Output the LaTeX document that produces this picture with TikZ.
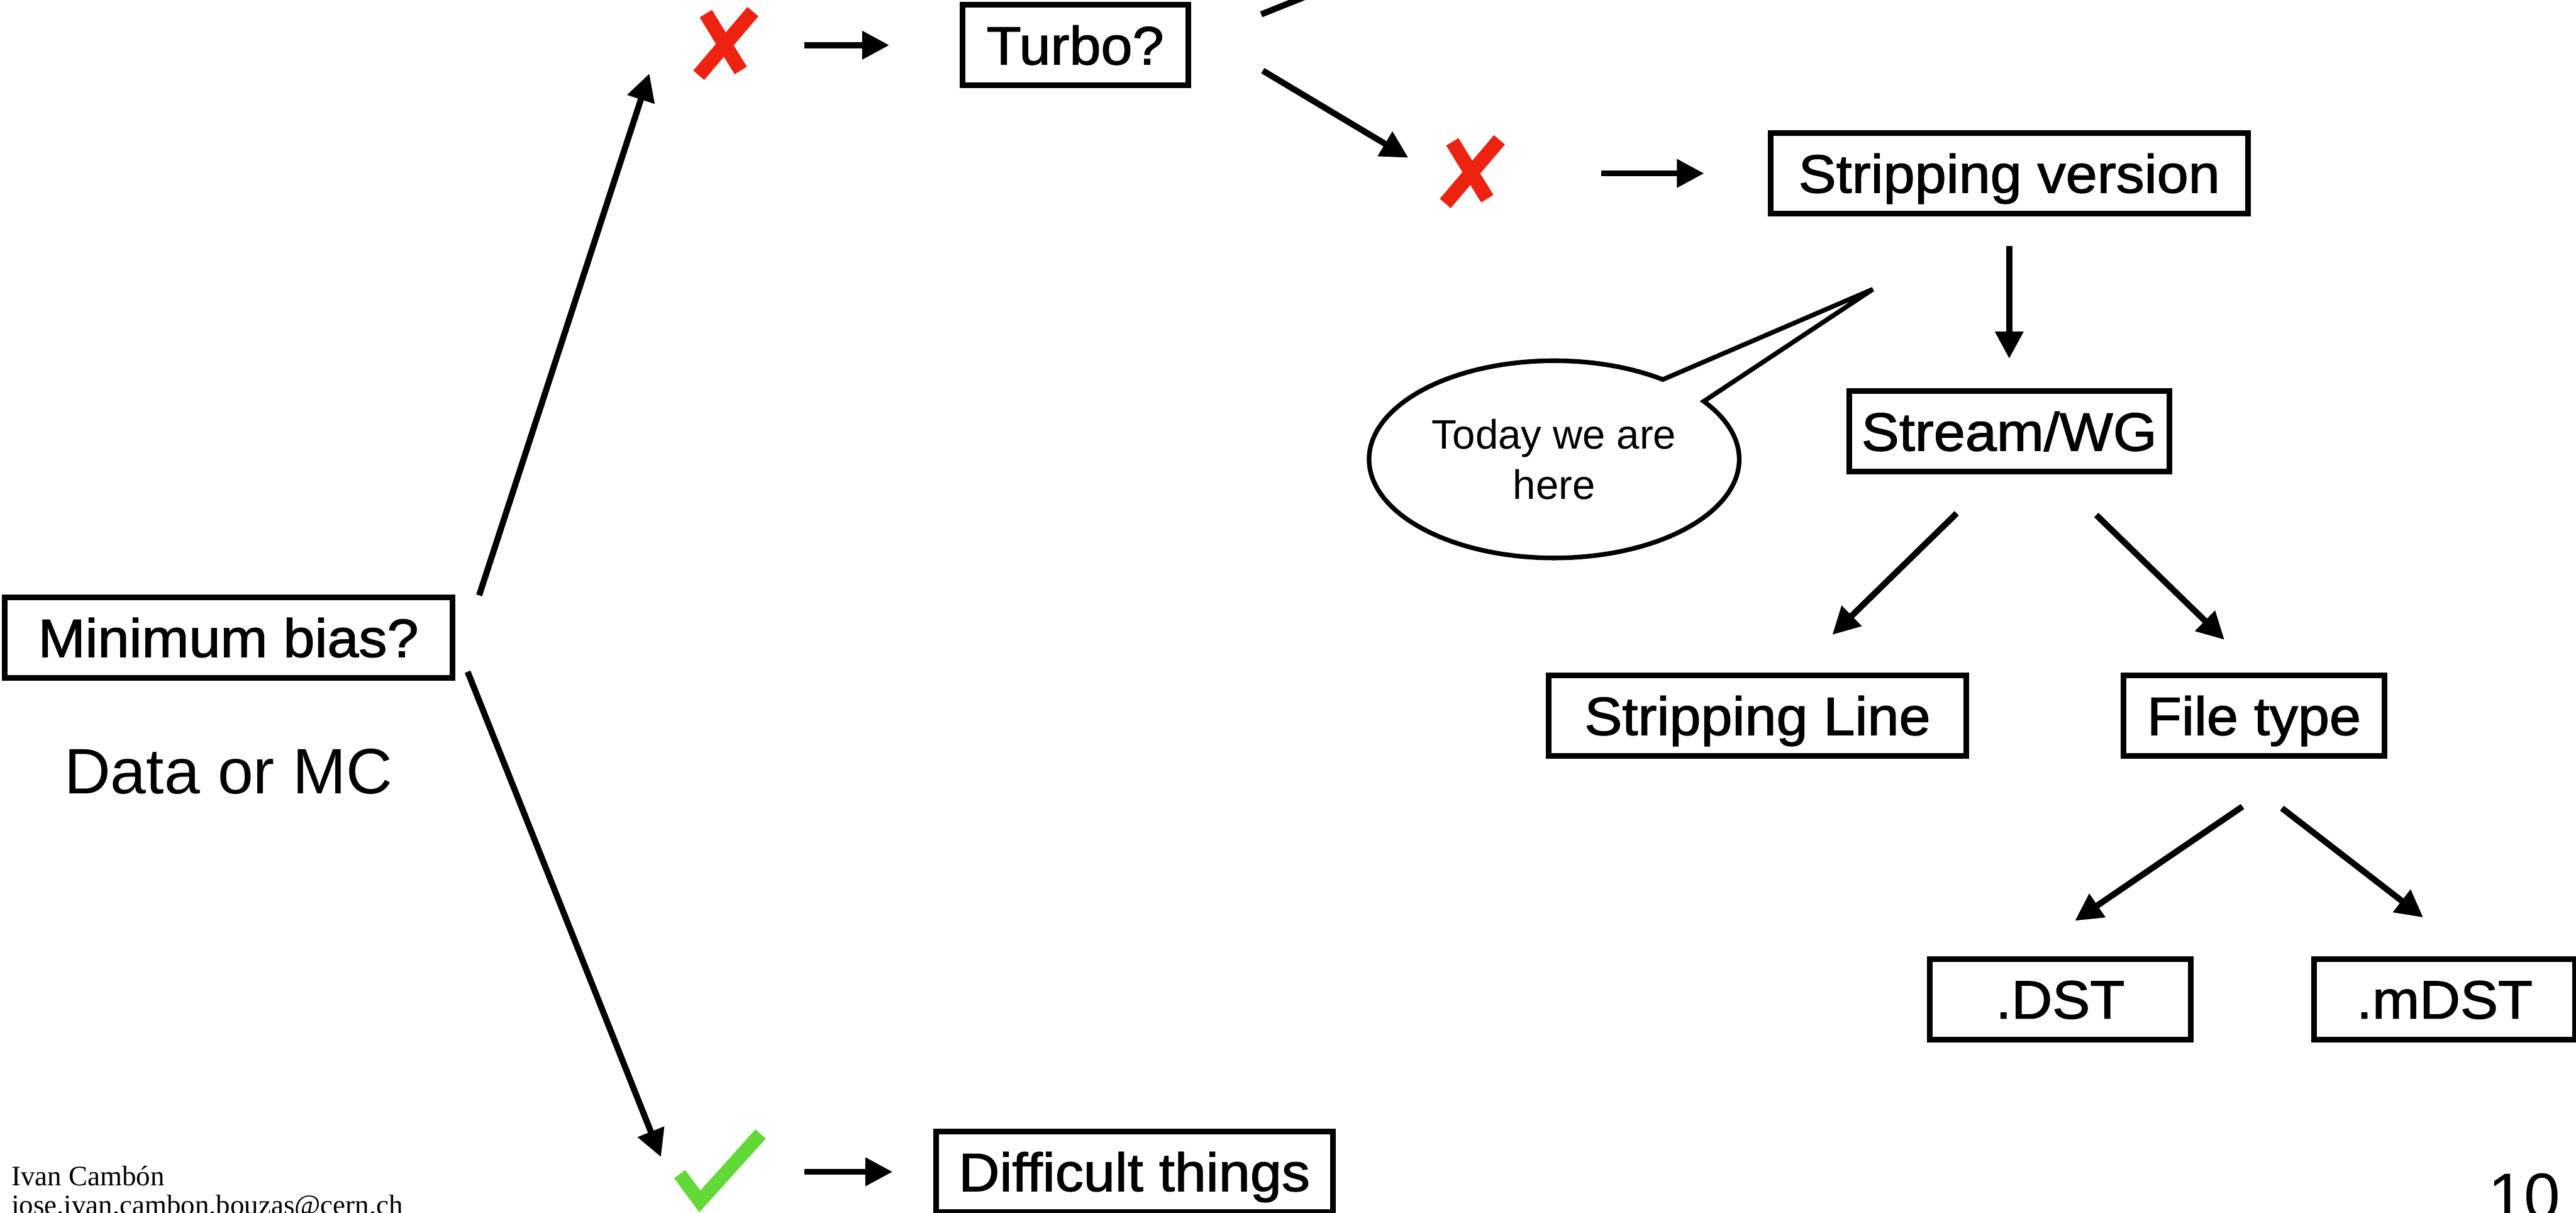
\documentclass[tikz,border=0pt]{standalone}
\usepackage{fontspec}
\setmainfont{Liberation Sans}
\newfontfamily\stagefont[FakeBold=1.5,FakeStretch=1.05]{Liberation Sans}
\newfontfamily\authorfont{Liberation Serif}
\usetikzlibrary{arrows.meta,calc,shapes.callouts}

\definecolor{nopered}{RGB}{238,34,17}
\definecolor{yepgreen}{RGB}{98,217,55}

\tikzset{every picture/.style={line width=1.1pt}}
\tikzset{
  stage/.style={draw, line width=1.1pt, minimum height=15.7pt, inner sep=0pt,
    font=\stagefont\fontsize{10.5}{12}\selectfont, text height=7.5pt, text depth=0pt},
  arr/.style={line width=1.2pt, -{Triangle[length=5.3pt,width=5.3pt]}},
  markspot/.style={minimum width=12.5pt, minimum height=15pt, inner sep=0pt},
  nopestroke/.style={draw=nopered, line width=2.8pt},
  yepstroke/.style={draw=yepgreen, line width=2.7pt},
  nope/.pic={
    \draw[nopestroke] (-12.2,19.2) -- (9.1,-15.4);
    \draw[nopestroke] (16.5,20.4) -- (-16.5,-18.3);
  },
  yep/.pic={
    \draw[yepstroke] (-24.3,-1.4) -- (-12,-18) -- (25,23);
  },
  bubble/.style={ellipse callout, draw, line width=0.9pt, minimum width=72.1pt,
    minimum height=38.4pt, inner sep=0pt, align=center, callout pointer arc=18,
    font=\fontsize{8}{9.9}\selectfont}
}

\begin{document}
\begin{tikzpicture}[x=0.32pt,y=0.32pt,yscale=-1,xscale=1]
\path[use as bounding box, clip] (0,0) rectangle (1568,738);
\fill[white] (0,0) rectangle (1568,738);

%Shape: Rectangle
\node[stage, minimum width=87.2pt] (minbias) at (139,388) {Minimum bias?};
\node[stage, minimum width=44pt] (turbo) at (654.5,27.5) {Turbo?};
\node[stage, minimum width=93pt] (strip) at (1223,105.5) {Stripping version};
\node[stage, minimum width=62.3pt] (stream) at (1223,262.5) {Stream/WG};
\node[stage, minimum width=81.3pt] (sline) at (1069.8,435.5) {Stripping Line};
\node[stage, minimum width=50.8pt] (ftype) at (1372,435.5) {File type};
\node[stage, minimum width=50.8pt] (dst) at (1254,608) {.DST};
\node[stage, minimum width=50.8pt] (mdst) at (1488,608) {.mDST};
\node[stage, minimum width=77.3pt] (hard) at (690.5,713) {Difficult things};

%Marks
\node[markspot] (noA) at (441.8,27.5) {};
\node[markspot] (noB) at (896.2,105.5) {};
\node[markspot, minimum width=17.9pt, minimum height=16.6pt] (yes) at (438,713) {};
\pic at (noA) {nope};
\pic at (noB) {nope};
\pic at (yes) {yep};

%Text
\node[font=\fontsize{12.5}{15}\selectfont, anchor=base] (kind) at (139,483) {Data or MC};
\node[bubble, callout absolute pointer={(1140,176)}] (today) at (946,279.5) {Today we are\\here};
\node[font=\authorfont\fontsize{5.5}{6.6}\selectfont, anchor=base west, inner sep=0pt] (author) at (5.3,721.6) {Ivan Cambón};
\node[font=\authorfont\fontsize{5.5}{6.6}\selectfont, anchor=base west, inner sep=0pt] (mail) at (5.3,739.2) {jose.ivan.cambon.bouzas@cern.ch};
\node[font=\fontsize{12.7}{15}\selectfont, anchor=base east, inner sep=0pt] (page) at (1560.3,741.6) {10};

%Straight Lines
\coordinate (above) at ($(turbo.north east)+(142.7,-32.5)$);
\draw[arr] ($(minbias.north east)+(14.7,0.5)$) -- ($(noA.south west)+(-25.3,-7.9)$);
\draw[arr] ($(noA.east)+(26.7,0)$) -- ($(turbo.west)+(-42.7,0)$);
\draw[arr] ($(turbo.north east)+(42.7,7.5)$) -- (above);
\draw[arr] ($(turbo.east)+(43.7,15.5)$) -- ($(noB.west)+(-17.7,-9.5)$);
\draw[arr] ($(noB.east)+(57.3,0)$) -- ($(strip.west)+(-38.7,0)$);
\draw[arr] ($(strip.south)+(0,18)$) -- ($(stream.north)+(0,-18)$);
\draw[arr] ($(stream.south)+(-32,23.6)$) -- ($(sline.north)+(45.5,-23)$);
\draw[arr] ($(stream.south)+(53,24.6)$) -- ($(ftype.north)+(-18,-20)$);
\draw[arr] ($(ftype.south)+(-7,29)$) -- ($(dst.north)+(9,-21.5)$);
\draw[arr] ($(ftype.south)+(17,30)$) -- ($(mdst.north)+(-13,-23.5)$);
\draw[arr] ($(minbias.south east)+(7.7,-5.5)$) -- ($(yes.west)+(-6,-9)$);
\draw[arr] ($(yes.east)+(22,0)$) -- ($(hard.west)+(-24.7,0)$);
\end{tikzpicture}
\end{document}
